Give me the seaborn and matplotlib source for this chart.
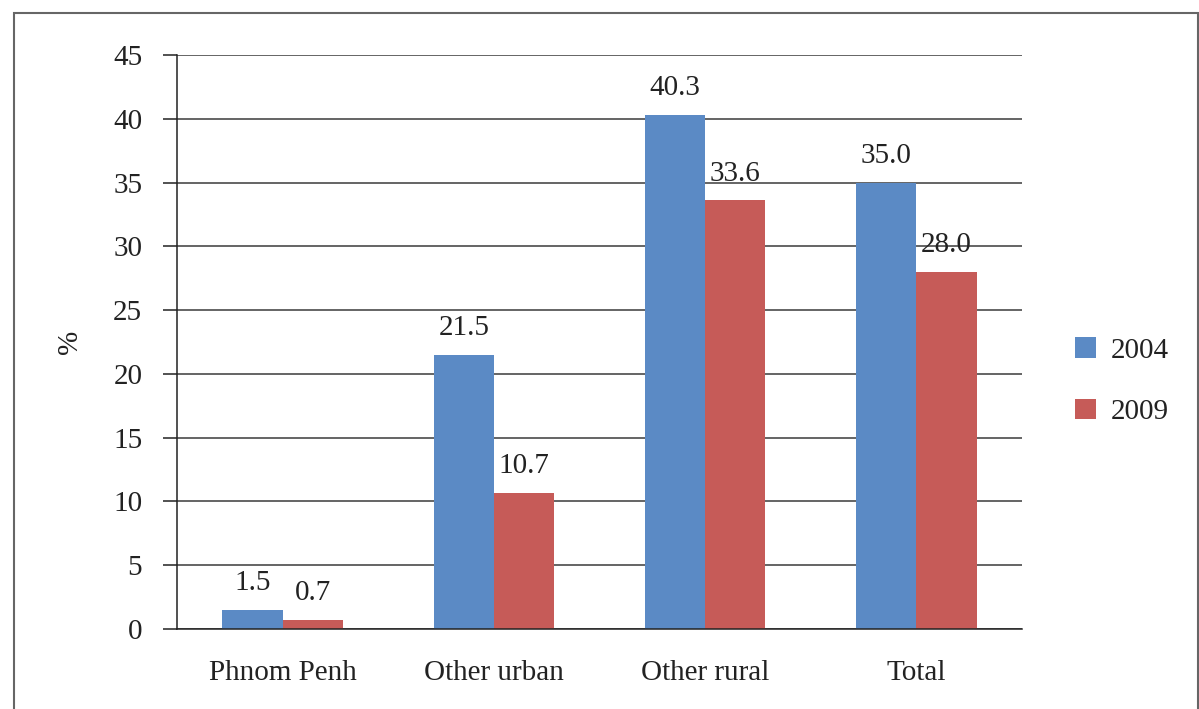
import matplotlib
matplotlib.use("Agg")
import matplotlib.pyplot as plt
import seaborn as sns
import pandas as pd
from matplotlib.patches import Rectangle

regions = ["Phnom Penh", "Other urban", "Other rural", "Total"]
years = ["2004", "2009"]
pct_2004 = [1.5, 21.5, 40.3, 35.0]
pct_2009 = [0.7, 10.7, 33.6, 28.0]
yticks = [0, 5, 10, 15, 20, 25, 30, 35, 40, 45]

colors = {"2004": "#5B8AC5", "2009": "#C65B58"}
FS = 21

df = pd.DataFrame({
    "region": regions * 2,
    "year": [years[0]] * 4 + [years[1]] * 4,
    "pct": pct_2004 + pct_2009,
})

sns.set_style("white")
plt.rcParams["font.family"] = ["Liberation Serif", "DejaVu Serif"]

fig = plt.figure(figsize=(11.99, 7.09), dpi=100)
ax = fig.add_axes([177 / 1199, 1 - 629 / 709, 845 / 1199, 574 / 709])

sns.barplot(data=df, x="region", y="pct", hue="year", palette=colors,
            width=0.57, saturation=1, ax=ax, errorbar=None, linewidth=0)

for cont in ax.containers:
    ax.bar_label(cont, fmt="%.1f", padding=10, fontsize=FS, color="#222222")

ax.set_ylim(0, 45)
ax.set_yticks(yticks)
ax.set_xlim(-0.5, 3.5)
ax.yaxis.grid(True, color="#3a3a3a", linewidth=1.1)
ax.set_axisbelow(True)
for s in ("top", "right"):
    ax.spines[s].set_visible(False)
for s in ("left", "bottom"):
    ax.spines[s].set_color("#222222")
    ax.spines[s].set_linewidth(1.1)
ax.tick_params(axis="y", left=True, length=10, width=1.1, color="#222222",
               labelsize=FS, labelcolor="#222222", pad=15)
ax.tick_params(axis="x", bottom=False, labelsize=FS, labelcolor="#222222", pad=19)
ax.set_xlabel("")
ax.set_ylabel("%", fontsize=FS, color="#222222")
ax.yaxis.set_label_coords(-0.111, 0.5)

leg = ax.legend(loc="center left", bbox_to_anchor=(1.063, 0.432), frameon=False,
                fontsize=FS, handlelength=0.72, handleheight=0.72,
                labelspacing=1.2, handletextpad=0.5, borderpad=0, borderaxespad=0)
for t in leg.get_texts():
    t.set_color("#222222")

# outer frame of the figure box
fig.patches.append(Rectangle((14 / 1199, -0.1), (1198 - 14) / 1199, 1.1 - 13 / 709,
                             transform=fig.transFigure, fill=False,
                             edgecolor="#666666", linewidth=1.5))

fig.savefig("out.png", dpi=100)
